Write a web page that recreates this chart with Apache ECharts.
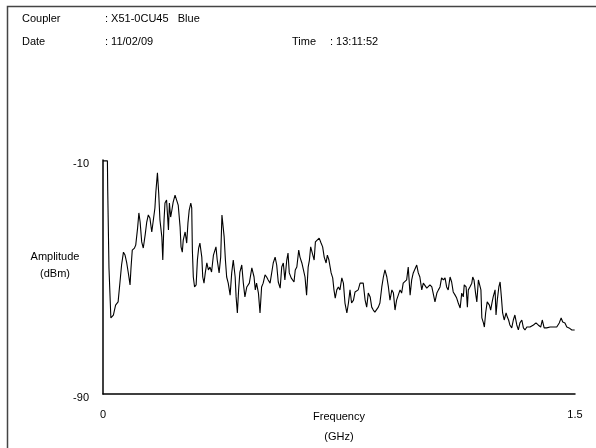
<!DOCTYPE html>
<html>
<head>
<meta charset="utf-8">
<script src="https://cdn.jsdelivr.net/npm/echarts@6/dist/echarts.min.js"></script>
<style>
html,body{margin:0;padding:0;background:#fff;}
#chart{width:596px;height:448px;}
</style>
</head>
<body>
<div id="chart"></div>
<script>
// Frequency (GHz)
var freq = [0, 0.014, 0.015, 0.019, 0.025, 0.033, 0.040, 0.048, 0.054, 0.059,
0.065, 0.070, 0.075, 0.080, 0.086, 0.089, 0.093, 0.100, 0.104, 0.110,
0.114, 0.118, 0.123, 0.128, 0.134, 0.139, 0.144, 0.149, 0.155, 0.160,
0.165, 0.168, 0.173, 0.177, 0.181, 0.187, 0.190, 0.194, 0.197, 0.202,
0.208, 0.211, 0.215, 0.219, 0.223, 0.229, 0.234, 0.239, 0.245, 0.248,
0.252, 0.255, 0.261, 0.266, 0.270, 0.274, 0.279, 0.282, 0.284, 0.287,
0.291, 0.296, 0.300, 0.304, 0.308, 0.314, 0.317, 0.321, 0.325, 0.330,
0.335, 0.340, 0.345, 0.351, 0.359, 0.363, 0.369, 0.374, 0.378, 0.385,
0.389, 0.393, 0.398, 0.404, 0.409, 0.414, 0.420, 0.423, 0.427, 0.431,
0.435, 0.441, 0.446, 0.451, 0.457, 0.465, 0.473, 0.480, 0.484, 0.488,
0.494, 0.499, 0.504, 0.509, 0.515, 0.520, 0.525, 0.531, 0.536, 0.541,
0.547, 0.552, 0.557, 0.563, 0.568, 0.573, 0.578, 0.584, 0.588, 0.592,
0.598, 0.603, 0.607, 0.611, 0.616, 0.622, 0.626, 0.632, 0.637, 0.642,
0.647, 0.652, 0.656, 0.660, 0.665, 0.671, 0.675, 0.681, 0.687, 0.693,
0.698, 0.703, 0.709, 0.713, 0.718, 0.725, 0.730, 0.734, 0.738, 0.743,
0.748, 0.753, 0.759, 0.764, 0.769, 0.775, 0.780, 0.785, 0.790, 0.796,
0.801, 0.806, 0.811, 0.817, 0.822, 0.827, 0.833, 0.838, 0.843, 0.849,
0.854, 0.859, 0.864, 0.870, 0.875, 0.880, 0.886, 0.891, 0.896, 0.902,
0.907, 0.912, 0.918, 0.923, 0.928, 0.933, 0.938, 0.944, 0.949, 0.954,
0.960, 0.965, 0.970, 0.976, 0.981, 0.986, 0.992, 0.997, 1.002, 1.007,
1.013, 1.018, 1.023, 1.029, 1.034, 1.039, 1.045, 1.050, 1.055, 1.061,
1.066, 1.071, 1.076, 1.082, 1.087, 1.092, 1.097, 1.103, 1.108, 1.113,
1.119, 1.124, 1.129, 1.135, 1.140, 1.145, 1.148, 1.154, 1.158, 1.161,
1.166, 1.172, 1.175, 1.179, 1.184, 1.188, 1.193, 1.198, 1.201, 1.204,
1.209, 1.212, 1.216, 1.221, 1.228, 1.232, 1.236, 1.240, 1.246, 1.249,
1.253, 1.258, 1.262, 1.266, 1.270, 1.275, 1.281, 1.285, 1.289, 1.293,
1.299, 1.304, 1.309, 1.315, 1.320, 1.325, 1.331, 1.336, 1.341, 1.347,
1.357, 1.368, 1.376, 1.383, 1.391, 1.396, 1.402, 1.410, 1.421, 1.431,
1.442, 1.450, 1.456, 1.461, 1.468, 1.474, 1.481, 1.490, 1.499];

// Amplitude (dBm)
var amp = [-10.3, -10.3, -20.3, -46.9, -64.0, -63.0, -59.6, -58.5, -51.7, -45.9,
-41.5, -42.5, -44.9, -48.3, -52.7, -46.9, -40.8, -40.1, -39.1, -33.2,
-28.1, -31.2, -38.0, -40.1, -35.6, -31.2, -28.8, -29.8, -34.6, -30.5,
-26.4, -20.9, -14.4, -21.3, -30.5, -36.3, -44.2, -30.5, -24.7, -23.7,
-33.9, -24.7, -29.5, -27.1, -24.4, -22.0, -23.7, -25.4, -32.9, -39.7,
-41.5, -37.4, -34.6, -38.4, -31.5, -27.1, -24.7, -26.4, -40.8, -50.0,
-53.4, -52.7, -44.2, -40.1, -38.4, -43.2, -50.0, -52.1, -48.6, -45.2,
-47.6, -46.6, -48.3, -42.5, -39.7, -44.2, -48.6, -43.2, -28.8, -36.3,
-44.2, -50.0, -52.1, -56.2, -48.6, -44.2, -50.0, -56.8, -62.3, -54.4,
-48.3, -45.9, -52.1, -56.8, -53.4, -52.1, -46.9, -50.0, -54.4, -52.1,
-55.5, -62.3, -53.4, -52.1, -49.3, -50.0, -51.0, -52.1, -51.7, -45.2,
-43.2, -45.9, -51.7, -53.8, -46.6, -45.2, -51.0, -44.2, -41.8, -48.6,
-50.3, -50.0, -51.7, -47.6, -46.6, -40.8, -43.2, -45.2, -47.6, -50.0,
-56.2, -46.6, -44.2, -39.7, -39.1, -44.2, -38.0, -37.4, -36.7, -38.4,
-39.7, -43.2, -45.2, -42.5, -44.2, -48.6, -50.3, -54.4, -57.2, -54.4,
-53.4, -54.4, -50.3, -52.1, -58.9, -62.3, -58.9, -54.4, -58.9, -57.9,
-55.1, -55.5, -54.4, -52.1, -51.7, -52.1, -57.9, -60.3, -55.5, -56.8,
-60.3, -61.3, -62.0, -62.3, -60.3, -58.9, -53.4, -50.0, -47.6, -50.0,
-53.4, -57.9, -54.4, -55.5, -61.3, -57.9, -57.9, -54.4, -55.5, -52.1,
-52.1, -51.0, -46.6, -56.2, -51.0, -48.6, -48.3, -45.9, -48.6, -50.0,
-54.4, -52.1, -51.7, -53.8, -53.4, -52.7, -53.4, -53.4, -58.5, -55.5,
-54.4, -53.4, -50.3, -51.0, -50.3, -53.4, -54.4, -50.0, -51.7, -55.1,
-56.2, -57.2, -58.9, -60.6, -55.5, -56.8, -52.7, -53.4, -60.3, -54.4,
-53.4, -52.1, -50.0, -51.0, -55.5, -58.5, -51.0, -51.0, -54.4, -64.0,
-65.7, -67.1, -62.3, -58.5, -59.6, -61.3, -58.9, -56.8, -54.4, -63.0,
-57.9, -53.4, -51.7, -56.8, -62.3, -64.7, -62.3, -63.7, -64.7, -66.4,
-67.4, -64.7, -63.0, -66.4, -68.1, -65.7, -64.7, -67.4, -68.1, -67.1,
-67.1, -66.4, -65.7, -66.4, -67.1, -64.7, -67.4, -67.4, -67.1, -67.1,
-67.1, -65.7, -64.0, -65.4, -65.7, -67.1, -67.4, -68.1, -68.1];

var header = {
  couplerLabel: 'Coupler', couplerValue: ': X51-0CU45   Blue',
  dateLabel: 'Date', dateValue: ': 11/02/09',
  timeLabel: 'Time', timeValue: ': 13:11:52'
};

var FONT = '"Liberation Sans", Arial, sans-serif';
var data = freq.map(function (f, i) { return [f, amp[i]]; });

var chart = echarts.init(document.getElementById('chart'), null, {renderer: 'canvas'});
function txt(x, y, s, extra) {
  var st = {text: s, fill: '#000', font: '11px ' + FONT, verticalAlign: 'middle', textAlign: 'left'};
  if (extra) for (var k in extra) st[k] = extra[k];
  return {type: 'text', x: x, y: y, style: st, silent: true};
}
chart.setOption({
  animation: false,
  backgroundColor: '#fff',
  grid: {left: 103, top: 160, width: 472, height: 234, containLabel: false, outerBoundsMode: 'none'},
  xAxis: {
    type: 'value', min: 0, max: 1.5, interval: 1.5,
    axisLine: {show: true, lineStyle: {color: '#000', width: 1.5}},
    axisTick: {show: false}, splitLine: {show: false},
    axisLabel: {color: '#000', fontSize: 11, fontFamily: FONT, margin: 15,
      formatter: function (v) { return v === 0 ? '0' : String(v); }},
    name: 'Frequency\n(GHz)', nameLocation: 'middle', nameGap: 13, nameMoveOverlap: false,
    nameTextStyle: {color: '#000', fontSize: 11, fontFamily: FONT, lineHeight: 20}
  },
  yAxis: {
    type: 'value', min: -90, max: -10, interval: 80,
    axisLine: {show: true, onZero: false, lineStyle: {color: '#000', width: 1.5}},
    axisTick: {show: false}, splitLine: {show: false},
    axisLabel: {color: '#000', fontSize: 11, fontFamily: FONT, margin: 14, verticalAlign: 'top', lineHeight: 8}
  },
  series: [{
    type: 'line', data: data, showSymbol: false, symbol: 'none',
    lineStyle: {color: '#000', width: 1.1}, clip: false
  }],
  graphic: [
    {type: 'rect', shape: {x: 7.5, y: 6.5, width: 800, height: 800},
     style: {fill: 'none', stroke: '#444', lineWidth: 1.5}, silent: true},
    txt(22, 19, header.couplerLabel),
    txt(105, 19, header.couplerValue),
    txt(22, 42, header.dateLabel),
    txt(105, 42, header.dateValue),
    txt(292, 42, header.timeLabel),
    txt(330, 42, header.timeValue),
    txt(55, 265, 'Amplitude\n(dBm)', {textAlign: 'center', lineHeight: 17})
  ]
});
</script>
</body>
</html>
